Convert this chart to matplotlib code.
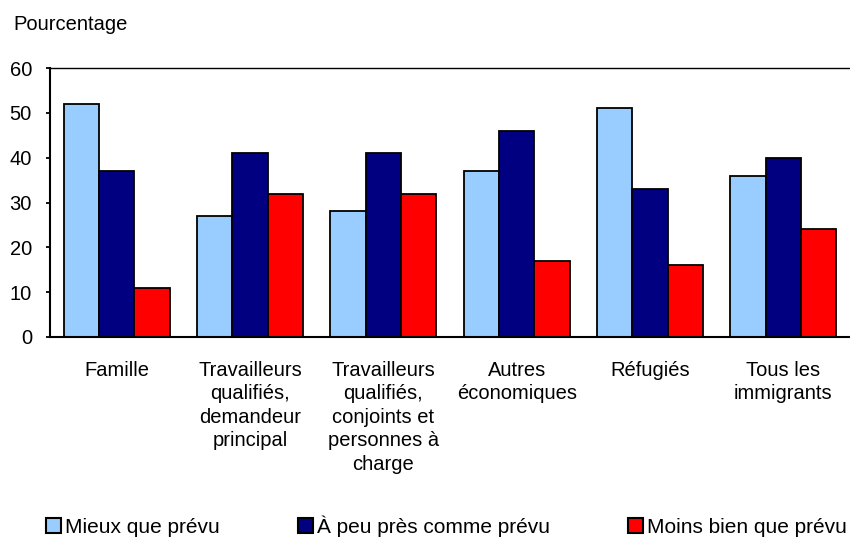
import numpy as np
import matplotlib.pyplot as plt

plt.rcParams['font.family'] = ['Liberation Sans', 'DejaVu Sans']

categories = ['Famille',
              'Travailleurs\nqualifiés,\ndemandeur\nprincipal',
              'Travailleurs\nqualifiés,\nconjoints et\npersonnes à\ncharge',
              'Autres\néconomiques',
              'Réfugiés',
              'Tous les\nimmigrants']
series_names = ['Mieux que prévu', 'À peu près comme prévu', 'Moins bien que prévu']
mieux = [52, 27, 28, 37, 51, 36]
peu_pres = [37, 41, 41, 46, 33, 40]
moins = [11, 32, 32, 17, 16, 24]
colors = ['#99CCFF', '#000080', '#FF0000']

fig = plt.figure(figsize=(8.5, 5.39), dpi=100)
ax = fig.add_axes([50/850, 1 - 337/539, 1 - 50/850, (337 - 68)/539])

x = np.arange(len(categories))
w = 0.265
for i, (vals, name) in enumerate(zip([mieux, peu_pres, moins], series_names)):
    ax.bar(x + (i - 1) * w, vals, w, color=colors[i], edgecolor='black',
           linewidth=1.3, label=name)

ax.set_xlim(-0.5, len(categories) - 0.5)
ax.set_ylim(0, 60)
ax.set_yticks(range(0, 61, 10))
ax.tick_params(axis='y', labelsize=14.5, length=3, width=1.3, direction='out', pad=10)
ax.set_xticks(x)
ax.set_xticklabels(categories, fontsize=14.5, linespacing=1.3)
ax.tick_params(axis='x', length=0, pad=17)

ax.spines['right'].set_visible(False)
ax.spines['left'].set_linewidth(1.5)
ax.spines['bottom'].set_linewidth(1.5)
ax.spines['top'].set_linewidth(1.0)

fig.text(13/850, 1 - 25/539, 'Pourcentage', fontsize=14.5, va='center', ha='left')

leg = fig.legend(loc='center left', bbox_to_anchor=(46/850, 1 - 526/539), ncol=3,
                 frameon=False, fontsize=15, handlelength=0.72, handleheight=0.72,
                 handletextpad=0.2, columnspacing=3.75, borderaxespad=0.0, borderpad=0.0)
for p in leg.get_patches():
    p.set_linewidth(1.5)

fig.savefig('out.png', dpi=100)
